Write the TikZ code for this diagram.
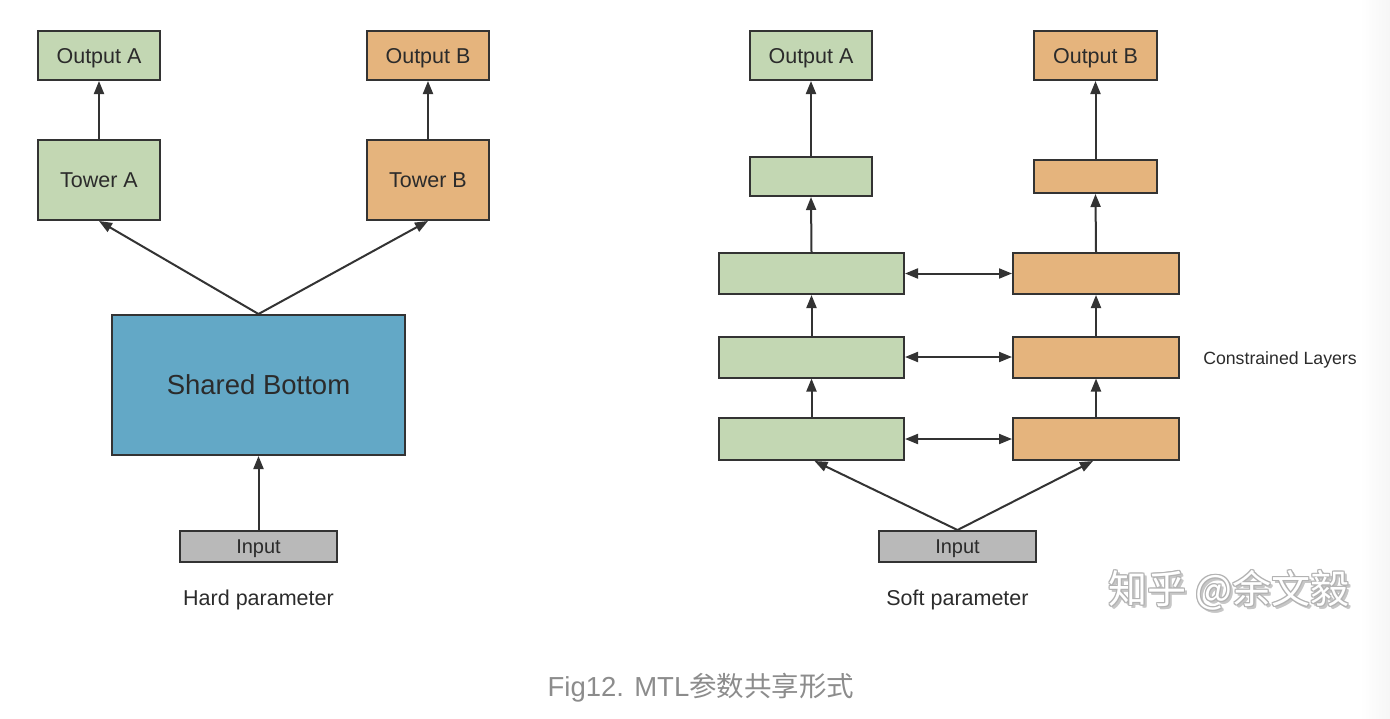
\documentclass[tikz,border=0pt]{standalone}
\usepackage{fontspec}
\setmainfont{Liberation Sans}
\newfontfamily\cjkfont{Noto Sans CJK SC}
\usetikzlibrary{arrows.meta}
\definecolor{bgreen}{HTML}{C3D7B3}
\definecolor{borange}{HTML}{E5B47D}
\definecolor{bblue}{HTML}{63A8C6}
\definecolor{bgray}{HTML}{B9B9B9}
\definecolor{edgec}{HTML}{333333}
\definecolor{txt}{HTML}{2B2B2B}
\definecolor{capc}{HTML}{8C8C8C}
\begin{document}
\begin{tikzpicture}[x=1pt,y=-1pt,
  box/.style={draw=edgec, line width=2pt, inner sep=0pt, text=txt, font=\fontsize{21.5}{24}\selectfont, text height=15.4pt, text depth=0pt},
  gbox/.style={box, fill=bgreen},
  obox/.style={box, fill=borange},
  conn/.style={draw=edgec, line width=2pt, -{Triangle[length=13pt,width=10pt]}},
  dconn/.style={draw=edgec, line width=2pt, {Triangle[length=13pt,width=10pt]}-{Triangle[length=13pt,width=10pt]}},
  lbl/.style={text=txt, inner sep=0pt, font=\fontsize{21.5}{24}\selectfont},
  wmk/.style={inner sep=0pt, font=\cjkfont\fontsize{39}{40}\selectfont}]
\useasboundingbox (0,0) rectangle (1390,718);
\shade[left color=white, right color=gray!7] (1360,0) rectangle (1390,718);

% ---- Hard parameter ----
\node[gbox, minimum width=122pt, minimum height=49pt] (oA) at (99,55.5) {Output A};
\node[gbox, minimum width=122pt, minimum height=80pt] (tA) at (99,180) {Tower A};
\node[obox, minimum width=122pt, minimum height=49pt] (oB) at (428,55.5) {Output B};
\node[obox, minimum width=122pt, minimum height=80pt] (tB) at (428,180) {Tower B};
\node[box, fill=bblue, minimum width=293pt, minimum height=140pt, font=\fontsize{27.5}{30}\selectfont, text height=19.7pt] (sb) at (258.5,385) {Shared Bottom};
\node[box, fill=bgray, minimum width=157pt, minimum height=31pt, font=\fontsize{20}{22}\selectfont, text height=14.3pt] (inL) at (258.5,546.5) {Input};
\node[lbl] (hard) at (258.5,600) {Hard parameter};

\draw[conn] (tA.north) -- (oA.south);
\draw[conn] (tB.north) -- (oB.south);
\draw[conn] (sb.north) -- (tA.south);
\draw[conn] (sb.north) -- (tB.south);
\draw[conn] (inL.north) -- (sb.south);

% ---- Soft parameter ----
\node[gbox, minimum width=122pt, minimum height=49pt] (oA2) at (811,55.5) {Output A};
\node[gbox, minimum width=122pt, minimum height=39pt] (g4) at (811,176.5) {};
\node[obox, minimum width=123pt, minimum height=49pt] (oB2) at (1095.5,55.5) {Output B};
\node[obox, minimum width=123pt, minimum height=33pt] (o4) at (1095.5,176.5) {};
\node[gbox, minimum width=185pt, minimum height=41pt] (g3) at (811.5,273.5) {};
\node[gbox, minimum width=185pt, minimum height=41pt] (g2) at (811.5,357) {};
\node[gbox, minimum width=185pt, minimum height=42pt] (g1) at (811.5,439) {};
\node[obox, minimum width=166pt, minimum height=41pt] (o3) at (1096,273.5) {};
\node[obox, minimum width=166pt, minimum height=41pt] (o2) at (1096,357) {};
\node[obox, minimum width=166pt, minimum height=42pt] (o1) at (1096,439) {};
\node[box, fill=bgray, minimum width=157pt, minimum height=31pt, font=\fontsize{20}{22}\selectfont, text height=14.3pt] (inR) at (957.5,546.5) {Input};
\node[lbl] (soft) at (957.5,600) {Soft parameter};
\node[lbl, font=\fontsize{17.7}{20}\selectfont] (cl) at (1280,360) {Constrained Layers};

\draw[conn] (g4.north) -- (oA2.south);
\draw[conn] (g3.north) -- (g4.south);
\draw[conn] (g2.north) -- (g3.south);
\draw[conn] (g1.north) -- (g2.south);
\draw[conn] (o4.north) -- (oB2.south);
\draw[conn] (o3.north) -- (o4.south);
\draw[conn] (o2.north) -- (o3.south);
\draw[conn] (o1.north) -- (o2.south);
\draw[dconn] (g3.east) -- (o3.west);
\draw[dconn] (g2.east) -- (o2.west);
\draw[dconn] (g1.east) -- (o1.west);
\draw[conn] (inR.north) -- ([xshift=3pt]g1.south);
\draw[conn] (inR.north) -- ([xshift=-3pt]o1.south);

% ---- watermark (white letters, grey outline, soft shadow) ----
\foreach \dx/\dy in {2.5/2.5,3/3,2/3,3/2} {
  \node[wmk, text=gray!45] at (1229+\dx,590+\dy) {知乎 @余文毅};
}
\foreach \dx/\dy in {-1/0,1/0,0/-1,0/1,-0.8/-0.8,0.8/0.8,-0.8/0.8,0.8/-0.8} {
  \node[wmk, text=gray!60] at (1229+\dx,590+\dy) {知乎 @余文毅};
}
\node[wmk, text=white] (wm) at (1229,590) {知乎 @余文毅};

% ---- caption ----
\node[text=capc, inner sep=0pt, font=\fontsize{27.5}{30}\selectfont] (cap) at (701,688) {Fig12. MTL{\cjkfont 参数共享形式}};
\end{tikzpicture}
\end{document}
